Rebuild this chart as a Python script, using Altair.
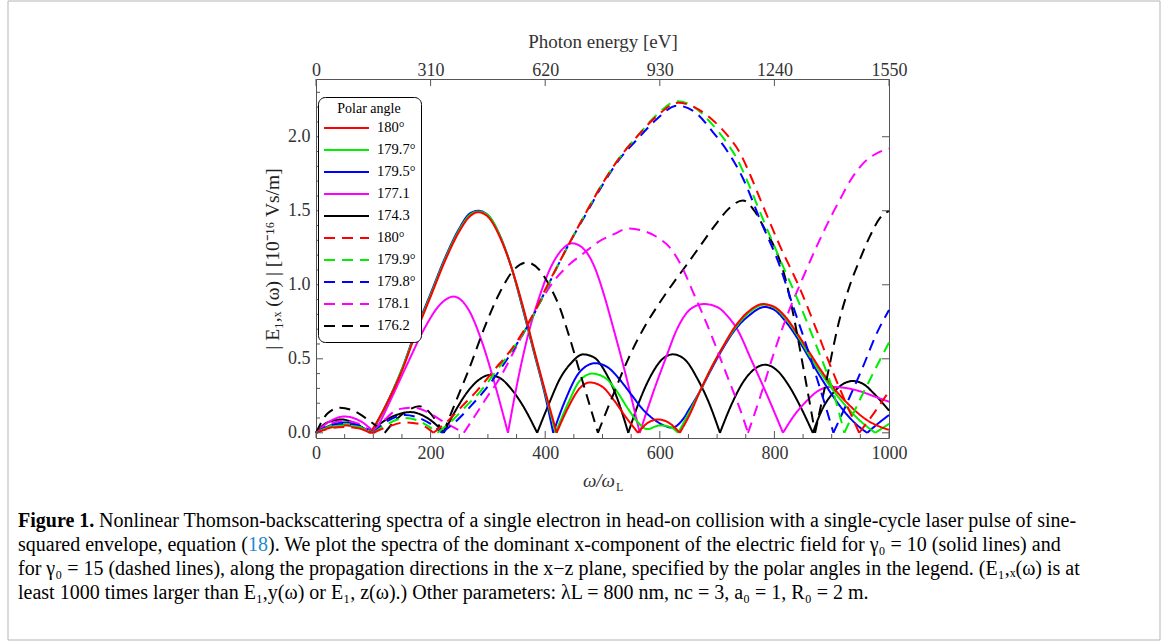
import altair as alt
import pandas as pd

# ---------------- data ----------------
X_MAJOR = [0, 200, 400, 600, 800, 1000]
X_MINOR = [50, 100, 150, 250, 300, 350, 450, 500, 550, 650, 700, 750, 850, 900, 950]
Y_MAJOR = [0.0, 0.5, 1.0, 1.5, 2.0]
Y_MINOR = [0.1, 0.2, 0.3, 0.4, 0.6, 0.7, 0.8, 0.9, 1.1, 1.2, 1.3, 1.4,
           1.6, 1.7, 1.8, 1.9, 2.1, 2.2, 2.3]

LEGEND_LABELS = ["180°", "179.7°", "179.5°", "177.1", "174.3",
                 "180° ", "179.9°", "179.8°", "178.1", "176.2"]

# gamma0 = 10 (solid)
red_solid = [
    [0, 0], [25, 0.035], [50, 0.05], [72, 0.035], [95, 0],
    [120, 0.17], [150, 0.42], [175, 0.68], [200, 0.92], [225, 1.16], [250, 1.36], [268, 1.46],
    [283, 1.49], [300, 1.46], [320, 1.33], [340, 1.13], [360, 0.87], [380, 0.57], [400, 0.28], [420, 0],
    [440, 0.17], [460, 0.30], [478, 0.34], [500, 0.31], [520, 0.22], [540, 0.11], [562, 0],
    [580, 0.07], [597, 0.09], [615, 0.07], [635, 0],
    [653, 0.13], [670, 0.28], [690, 0.44], [710, 0.58], [730, 0.71], [755, 0.82], [780, 0.87],
    [800, 0.85], [820, 0.78], [840, 0.67], [860, 0.55], [880, 0.43], [902, 0.31], [930, 0.19],
    [960, 0.09], [985, 0.04], [1000, 0.02]]
green_solid = [
    [0, 0], [25, 0.045], [50, 0.06], [72, 0.045], [96, 0],
    [120, 0.17], [150, 0.43], [175, 0.69], [200, 0.93], [225, 1.17], [250, 1.37], [268, 1.47],
    [283, 1.495], [300, 1.47], [320, 1.34], [340, 1.13], [360, 0.86], [380, 0.56], [400, 0.27], [418, 0],
    [440, 0.20], [460, 0.35], [482, 0.40], [505, 0.37], [525, 0.28], [545, 0.16], [562, 0.07],
    [578, 0.025], [600, 0.05], [618, 0.04], [632, 0],
    [653, 0.15], [670, 0.28], [690, 0.44], [710, 0.58], [730, 0.70], [755, 0.81], [782, 0.865],
    [800, 0.845], [820, 0.77], [840, 0.66], [860, 0.53], [880, 0.41], [900, 0.30], [925, 0.18],
    [950, 0.08], [976, 0], [1000, 0.06]]
blue_solid = [
    [0, 0], [25, 0.05], [50, 0.07], [72, 0.05], [97, 0],
    [120, 0.17], [150, 0.43], [175, 0.70], [200, 0.94], [225, 1.18], [250, 1.38], [268, 1.48],
    [283, 1.50], [300, 1.47], [320, 1.34], [340, 1.13], [360, 0.85], [380, 0.55], [400, 0.25], [414, 0],
    [435, 0.22], [460, 0.41], [487, 0.47], [510, 0.44], [530, 0.36], [550, 0.26], [570, 0.16],
    [590, 0.09], [607, 0.05], [622, 0.035], [638, 0.08], [653, 0.17], [670, 0.28], [690, 0.43],
    [710, 0.57], [730, 0.69], [755, 0.79], [783, 0.85], [800, 0.83], [820, 0.75], [840, 0.64],
    [860, 0.51], [880, 0.38], [900, 0.26], [925, 0.13], [945, 0.05], [962, 0], [980, 0.06], [1000, 0.12]]
magenta_solid = [
    [0, 0], [25, 0.08], [50, 0.11], [77, 0.08], [103, 0],
    [130, 0.22], [160, 0.47], [190, 0.71], [215, 0.86], [240, 0.92], [265, 0.84], [290, 0.61],
    [312, 0.33], [335, 0],
    [352, 0.35], [370, 0.66], [390, 0.92], [410, 1.12], [430, 1.24], [447, 1.28], [465, 1.25],
    [485, 1.13], [502, 0.94], [518, 0.72], [540, 0.40], [565, 0],
    [590, 0.29], [610, 0.50], [630, 0.70], [655, 0.84], [677, 0.87], [700, 0.85], [720, 0.78],
    [735, 0.70], [760, 0.49], [790, 0.23], [815, 0],
    [835, 0.12], [855, 0.21], [875, 0.28], [897, 0.31], [920, 0.305], [950, 0.28], [975, 0.245], [1000, 0.21]]
black_solid = [
    [0, 0], [20, 0.07], [45, 0.09], [70, 0.06], [94, 0],
    [115, 0.07], [140, 0.12], [165, 0.14], [190, 0.11], [208, 0.06], [223, 0],
    [245, 0.16], [265, 0.28], [285, 0.36], [302, 0.39], [321, 0.37], [340, 0.30], [360, 0.19], [386, 0],
    [408, 0.21], [425, 0.36], [445, 0.47], [466, 0.53], [485, 0.51], [505, 0.41], [525, 0.24], [545, 0],
    [565, 0.22], [585, 0.39], [605, 0.50], [623, 0.53], [645, 0.49], [665, 0.37], [685, 0.21], [705, 0],
    [725, 0.19], [745, 0.34], [765, 0.43], [784, 0.46], [805, 0.42], [825, 0.32], [845, 0.18], [867, 0],
    [885, 0.17], [905, 0.28], [920, 0.33], [937, 0.35], [955, 0.33], [975, 0.26], [1000, 0.15]]

# gamma0 = 15 (dashed)
red_dashed = [
    [0, 0], [25, 0.03], [50, 0.04], [75, 0.03], [100, 0],
    [125, 0.04], [155, 0.07], [180, 0.06], [195, 0.03], [205, 0],
    [230, 0.08], [255, 0.18], [280, 0.28], [310, 0.42], [344, 0.58], [379, 0.80], [403, 0.99],
    [438, 1.25], [470, 1.48], [501, 1.69], [530, 1.86], [560, 2.00], [595, 2.14], [632, 2.23],
    [660, 2.20], [693, 2.11], [720, 2.00], [740, 1.89], [758, 1.74], [775, 1.58], [810, 1.26],
    [845, 0.97], [874, 0.69], [900, 0.43], [925, 0.20], [948, 0],
    [975, 0.14], [1000, 0.28]]
green_dashed = [
    [0, 0], [25, 0.04], [50, 0.05], [75, 0.04], [100, 0],
    [125, 0.06], [155, 0.10], [180, 0.08], [198, 0.04], [212, 0],
    [237, 0.08], [262, 0.18], [287, 0.28], [315, 0.42], [344, 0.57], [379, 0.79], [403, 0.98],
    [438, 1.25], [470, 1.48], [501, 1.69], [530, 1.86], [560, 2.00], [595, 2.15], [630, 2.24],
    [660, 2.20], [690, 2.09], [715, 1.97], [735, 1.85], [755, 1.68], [775, 1.49], [810, 1.17],
    [845, 0.86], [874, 0.58], [900, 0.31], [922, 0],
    [950, 0.23], [976, 0.43], [1000, 0.61]]
blue_dashed = [
    [0, 0], [25, 0.05], [50, 0.06], [75, 0.05], [100, 0],
    [125, 0.08], [155, 0.12], [180, 0.10], [200, 0.06], [220, 0],
    [245, 0.08], [270, 0.18], [295, 0.29], [320, 0.42], [344, 0.56], [379, 0.79], [403, 0.98],
    [438, 1.25], [470, 1.47], [501, 1.68], [530, 1.85], [560, 1.98], [595, 2.12], [630, 2.21],
    [660, 2.17], [693, 2.03], [720, 1.89], [745, 1.72], [775, 1.44], [810, 1.12], [833, 0.85],
    [855, 0.60], [874, 0.37], [890, 0.17], [903, 0],
    [930, 0.23], [955, 0.45], [976, 0.65], [1000, 0.83]]
magenta_dashed = [
    [0, 0], [25, 0.06], [50, 0.08], [75, 0.06], [98, 0],
    [120, 0.09], [145, 0.16], [170, 0.17], [195, 0.14], [220, 0.08], [258, 0],
    [280, 0.13], [300, 0.25], [316, 0.34], [356, 0.63], [385, 0.84], [414, 1.02], [440, 1.13],
    [466, 1.21], [493, 1.29], [519, 1.34], [545, 1.38], [575, 1.36], [600, 1.31], [618, 1.25],
    [640, 1.11], [658, 0.95], [675, 0.80], [690, 0.66], [710, 0.46], [723, 0.33], [740, 0.16], [754, 0],
    [775, 0.24], [800, 0.55], [825, 0.82], [850, 1.05], [875, 1.27], [900, 1.47], [915, 1.58],
    [935, 1.72], [955, 1.82], [975, 1.88], [1000, 1.92]]
black_dashed = [
    [0, 0], [20, 0.13], [42, 0.17], [65, 0.15], [90, 0.09], [120, 0],
    [140, 0.09], [160, 0.15], [180, 0.18], [200, 0.13], [222, 0],
    [245, 0.22], [267, 0.43], [295, 0.72], [321, 0.95], [345, 1.10], [368, 1.15], [390, 1.10],
    [408, 0.99], [425, 0.85], [438, 0.70], [465, 0.35], [492, 0],
    [520, 0.27], [545, 0.50], [571, 0.70], [600, 0.88], [625, 1.02], [646, 1.13], [670, 1.26],
    [700, 1.42], [722, 1.52], [745, 1.57], [765, 1.50], [784, 1.37], [804, 1.22], [820, 1.03],
    [833, 0.80], [850, 0.45], [865, 0.13], [871, 0],
    [891, 0.36], [914, 0.77], [932, 1.00], [949, 1.17], [967, 1.33], [984, 1.45], [1000, 1.50]]

SERIES = [red_solid, green_solid, blue_solid, magenta_solid, black_solid,
          red_dashed, green_dashed, blue_dashed, magenta_dashed, black_dashed]

# ---------------- styles ----------------
COLORS = ["#ff0000", "#00ee00", "#0000ff", "#ff00ff", "#000000"] * 2
DASHES = [[1, 0]] * 5 + [[11, 7]] * 5
DRAW_ORDER = [4, 3, 2, 1, 0, 9, 8, 7, 6, 5]
FONT = "Liberation Serif"
W, H = 573, 359
FRAME = "#555555"

XS = alt.Scale(domain=[0, 1000], nice=False, zero=False)
YS = alt.Scale(domain=[-0.035, 2.39], nice=False, zero=False)

# split each curve into lobes at its zeros so the cusps stay sharp
rows = []
for idx in DRAW_ORDER:
    name, pts = LEGEND_LABELS[idx], SERIES[idx]
    lobe = 0
    for i, (x, y) in enumerate(pts):
        rows.append({"series": name, "seg": f"{idx}-{lobe}", "x": x, "y": y})
        if y == 0 and 0 < i < len(pts) - 1:
            lobe += 1
            rows.append({"series": name, "seg": f"{idx}-{lobe}", "x": x, "y": y})
df = pd.DataFrame(rows)

legend = alt.Legend(
    title="Polar angle", orient="none", legendX=2, legendY=18, direction="vertical",
    symbolType="stroke", symbolSize=2025, symbolStrokeWidth=2, clipHeight=21.8,
    labelFont=FONT, labelFontSize=14.5, labelColor="black", labelOffset=7, labelLimit=200,
    titleFont=FONT, titleFontSize=14, titleFontWeight="normal", titleColor="black",
    titleAnchor="middle", titleAlign="center", titlePadding=1, rowPadding=0,
    strokeColor="black", fillColor="white", cornerRadius=7, padding=5,
)

lines = alt.Chart(df).mark_line(interpolate="monotone", strokeWidth=2).encode(
    x=alt.X("x:Q", scale=XS, axis=alt.Axis(
        orient="bottom", values=X_MAJOR, format="d", ticks=False, domain=False, grid=False,
        labelFont=FONT, labelFontSize=18, labelColor="#333", labelPadding=6,
        labelFlush=False, labelOverlap=False, title=None)),
    y=alt.Y("y:Q", scale=YS, axis=alt.Axis(
        orient="left", values=Y_MAJOR, format=".1f", ticks=False, domain=False, grid=False,
        labelFont=FONT, labelFontSize=18, labelColor="#333", labelPadding=6,
        labelFlush=False, labelOverlap=False,
        title="| E₁,ₓ (ω) |  [10⁻¹⁶ Vs/m]", titleFont=FONT, titleFontSize=19.5,
        titleFontWeight="normal", titleColor="#222", titlePadding=5)),
    color=alt.Color("series:N", scale=alt.Scale(domain=LEGEND_LABELS, range=COLORS), legend=legend),
    strokeDash=alt.StrokeDash("series:N", scale=alt.Scale(domain=LEGEND_LABELS, range=DASHES), legend=legend),
    detail="seg:N",
)


def xticks(values, side, length, axis=None):
    d = pd.DataFrame({"v": values})
    enc = {"x": alt.X("v:Q", scale=XS, axis=axis)}
    if side == "bottom":
        enc.update(y=alt.value(H), y2=alt.value(H - length))
    else:
        enc.update(y=alt.value(0), y2=alt.value(length))
    return alt.Chart(d).mark_rule(color=FRAME, strokeWidth=1).encode(**enc)


def yticks(values, side, length):
    d = pd.DataFrame({"v": values})
    enc = {"y": alt.Y("v:Q", scale=YS, axis=None)}
    if side == "left":
        enc.update(x=alt.value(0), x2=alt.value(length))
    else:
        enc.update(x=alt.value(W), x2=alt.value(W - length))
    return alt.Chart(d).mark_rule(color=FRAME, strokeWidth=1).encode(**enc)


top_axis = alt.Axis(
    orient="top", values=X_MAJOR, labelExpr="'' + round(datum.value * 1.55)",
    ticks=False, domain=False, grid=False, labelFont=FONT, labelFontSize=18,
    labelColor="#333", labelPadding=0, labelFlush=False, labelOverlap=False,
    title="Photon energy [eV]", titleFont=FONT, titleFontSize=19, titleFontWeight="normal",
    titleColor="#333", titlePadding=10)

one = pd.DataFrame({"k": [0]})


def txt(s, x, y, size=20, align="left", **kw):
    return alt.Chart(one).mark_text(
        text=s, align=align, baseline="middle", font=FONT, fontSize=size, **kw
    ).encode(x=alt.value(x), y=alt.value(y))


border = alt.Chart(one).mark_rect(fillOpacity=0, stroke="#b5b5b5", strokeWidth=1).encode(
    x=alt.value(-308), x2=alt.value(844), y=alt.value(-78), y2=alt.value(561))

CAP_X = -298
texts = [
    txt("ω/ω", 299, 402, size=19, align="right", fontStyle="italic", color="#333"),
    txt("L", 300, 408, size=12, color="#333"),
    txt("Figure 1.", CAP_X, 442, fontWeight="bold", color="black"),
    txt("Nonlinear Thomson-backscattering spectra of a single electron in head-on collision with a "
        "single-cycle laser pulse of sine-", -217, 442, color="black"),
    txt("squared envelope, equation (", CAP_X, 466, color="black"),
    txt("18", -68, 466, color="#1f8ad0"),
    txt("). We plot the spectra of the dominant x-component of the electric field for γ₀ = 10 "
        "(solid lines) and", -48, 466, color="black"),
    txt("for γ₀ = 15 (dashed lines), along the propagation directions in the x−z plane, specified by "
        "the polar angles in the legend. (E₁,ₓ(ω) is at", CAP_X, 490, color="black"),
    txt("least 1000 times larger than E₁,y(ω) or E₁, z(ω).) Other parameters: λL = 800 nm, "
        "nc = 3, a₀ = 1, R₀ = 2 m.", CAP_X, 514, color="black"),
]

chart = alt.layer(
    border,
    lines,
    xticks(X_MAJOR, "bottom", 7),
    xticks(X_MINOR, "bottom", 4),
    xticks(X_MAJOR, "top", 7, axis=top_axis),
    yticks(Y_MAJOR, "left", 7),
    yticks(Y_MINOR, "left", 4),
    yticks(Y_MAJOR, "right", 7),
    *texts,
).resolve_axis(x="independent", y="independent").properties(
    width=W, height=H,
    padding={"left": 316, "top": 79, "right": 1168 - 316 - W, "bottom": 644 - 79 - H},
    autosize=alt.AutoSizeParams(type="none"),
    background="white",
).configure_view(stroke=FRAME, strokeWidth=1)

chart.save("out.html", embed_options={"renderer": "svg", "actions": False})
